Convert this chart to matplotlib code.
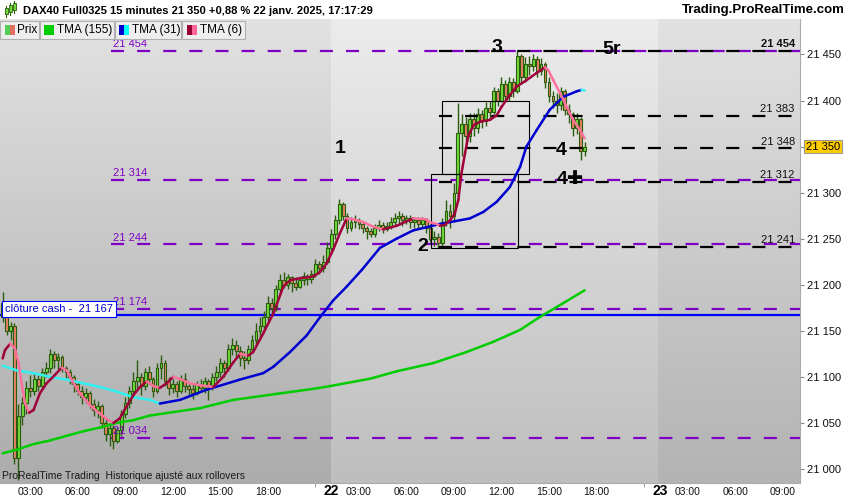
import matplotlib
matplotlib.use("Agg")
import numpy as np
import matplotlib.pyplot as plt
import matplotlib.font_manager as fm
from matplotlib.patches import Rectangle
from matplotlib.colors import LinearSegmentedColormap
from matplotlib.transforms import blended_transform_factory

plt.rcParams['font.family'] = ['Liberation Sans', 'DejaVu Sans']
plt.rcParams['lines.scale_dashes'] = False

# condensed font for the small axis texts if we have it
names = {f.name for f in fm.fontManager.ttflist}
NARROW = 'Liberation Sans Narrow' if 'Liberation Sans Narrow' in names else 'Liberation Sans'

W, H = 850, 500

# ---- 15 min bars, 21 janv 01:15 -> 22 janv 17:15 (bar index on x) ----
first_open = 21165
closes = [21180, 21150, 21155, 21012, 21058, 21072, 21088, 21085, 21098, 21090,
          21105, 21110, 21125, 21118, 21122, 21110, 21105, 21100, 21092, 21085,
          21078, 21082, 21070, 21064, 21068, 21050, 21038, 21045, 21030, 21042,
          21060, 21072, 21085, 21095, 21100, 21090, 21105, 21098, 21085, 21110,
          21115, 21095, 21088, 21092, 21085, 21098, 21090, 21087, 21082, 21092,
          21088, 21095, 21090, 21100, 21105, 21115, 21110, 21130, 21135, 21128,
          21120, 21118, 21130, 21140, 21150, 21155, 21165, 21180, 21175, 21195,
          21205, 21200, 21208, 21202, 21198, 21205, 21210, 21206, 21212, 21222,
          21218, 21225, 21240, 21255, 21270, 21288, 21275, 21262, 21268, 21270,
          21266, 21262, 21258, 21255, 21262, 21265, 21260, 21264, 21268, 21272,
          21275, 21270, 21272, 21268, 21270, 21266, 21270, 21262, 21250, 21252,
          21245, 21268, 21280, 21275, 21300, 21365, 21375, 21362, 21380, 21370,
          21385, 21378, 21392, 21388, 21410, 21400, 21418, 21405, 21420, 21410,
          21448, 21425, 21440, 21438, 21445, 21432, 21440, 21420, 21405, 21400,
          21395, 21410, 21390, 21385, 21370, 21380, 21345, 21350]
highs = [21192, 21182, 21160, 21158, 21070, 21078, 21095, 21102, 21104, 21102,
         21110, 21116, 21130, 21128, 21126, 21124, 21112, 21108, 21102, 21095,
         21090, 21088, 21085, 21076, 21074, 21070, 21055, 21050, 21048, 21046,
         21064, 21078, 21090, 21105, 21118, 21104, 21110, 21112, 21100, 21115,
         21124, 21118, 21100, 21098, 21096, 21102, 21104, 21094, 21092, 21096,
         21098, 21100, 21098, 21104, 21112, 21120, 21118, 21136, 21142, 21140,
         21134, 21128, 21135, 21145, 21158, 21165, 21172, 21188, 21186, 21200,
         21212, 21214, 21212, 21210, 21208, 21210, 21214, 21212, 21216, 21228,
         21226, 21232, 21246, 21260, 21276, 21293, 21290, 21278, 21274, 21276,
         21272, 21268, 21264, 21262, 21266, 21270, 21268, 21268, 21274, 21278,
         21280, 21278, 21276, 21276, 21274, 21274, 21274, 21272, 21266, 21258,
         21256, 21272, 21292, 21288, 21310, 21397, 21385, 21382, 21386, 21386,
         21392, 21390, 21398, 21400, 21415, 21414, 21425, 21422, 21426, 21424,
         21455, 21450, 21447, 21448, 21450, 21448, 21446, 21442, 21425, 21410,
         21408, 21415, 21412, 21396, 21388, 21386, 21382, 21355]
lows = [21160, 21145, 21140, 21005, 20988, 21048, 21060, 21078, 21080, 21085,
        21088, 21100, 21104, 21110, 21108, 21105, 21098, 21092, 21084, 21080,
        21070, 21072, 21066, 21058, 21055, 21045, 21030, 21025, 21022, 21028,
        21036, 21055, 21066, 21080, 21088, 21080, 21086, 21092, 21078, 21082,
        21098, 21090, 21080, 21082, 21078, 21082, 21084, 21080, 21076, 21080,
        21084, 21083, 21075, 21086, 21096, 21100, 21100, 21106, 21124, 21120,
        21112, 21108, 21114, 21126, 21136, 21140, 21150, 21160, 21168, 21172,
        21190, 21196, 21195, 21192, 21194, 21196, 21200, 21200, 21202, 21208,
        21212, 21214, 21222, 21236, 21250, 21266, 21270, 21256, 21258, 21262,
        21260, 21256, 21250, 21252, 21252, 21258, 21256, 21258, 21260, 21264,
        21266, 21264, 21266, 21262, 21262, 21260, 21262, 21256, 21246, 21242,
        21240, 21242, 21264, 21262, 21268, 21296, 21340, 21348, 21355, 21362,
        21365, 21370, 21372, 21380, 21385, 21394, 21398, 21398, 21400, 21404,
        21408, 21418, 21420, 21428, 21432, 21426, 21428, 21414, 21398, 21392,
        21386, 21390, 21384, 21376, 21362, 21364, 21335, 21340]

# moving averages (bar index, value)
tma6_x = [0, 0.6, 1.9, 3.1, 4.0, 4.8, 5.7, 6.7, 7.8, 9.4, 11.1, 13.2, 14.9,
          16.2, 17.4, 19.5, 22.1, 24.6, 26.7, 28.0, 29.6, 31.3, 33.0, 34.7,
          36.4, 38.1, 39.7, 41.4, 43.1, 45.2, 47.3, 49.8, 53.2, 55.7, 58.3,
          60.0, 62.0, 63.3, 65.8, 68.4, 70.9, 72.6, 75.1, 78.5, 80.2, 81.8,
          83.5, 85.2, 86.9, 88.6, 91.1, 93.6, 96.1, 99.5, 103.7, 107.1, 107.9,
          109.6, 110.5, 111.7, 113.0, 114.2, 115.1, 115.9, 116.8, 117.6, 118.9,
          120.6, 123.1, 124.8, 126.0, 128.1, 129.8, 132.3, 134.9, 137.0, 137.8,
          139.1, 140.8, 142.5, 144.1, 145.8, 147.0]
tma6_v = [21120, 21129, 21136, 21131, 21116, 21093, 21071, 21061, 21064, 21082,
          21093, 21102, 21110, 21107, 21097, 21082, 21069, 21060, 21053, 21050,
          21055, 21068, 21080, 21089, 21095, 21090, 21088, 21093, 21100, 21097,
          21093, 21091, 21089, 21100, 21116, 21125, 21123, 21127, 21147, 21169,
          21198, 21205, 21207, 21209, 21214, 21223, 21238, 21256, 21272, 21271,
          21268, 21263, 21260, 21264, 21272, 21271, 21268, 21266, 21264, 21265,
          21270, 21277, 21292, 21321, 21343, 21361, 21373, 21377, 21379, 21384,
          21393, 21406, 21415, 21422, 21430, 21436, 21433, 21422, 21408, 21393,
          21379, 21368, 21359]
tma31_x = [0, 3.6, 7.8, 12.0, 16.2, 20.4, 24.6, 28.8, 33.0, 37.2, 39.7, 44.8,
           51.5, 59.9, 65.8, 68.4, 72.6, 76.8, 80.2, 83.5, 86.9, 90.7, 95.3,
           99.5, 103.7, 110.5, 113.0, 118.0, 121.4, 124.8, 128.1, 130.7, 132.3,
           134.9, 138.2, 141.6, 145.0, 146.2, 147.0]
tma31_v = [21112, 21107, 21104, 21100, 21097, 21093, 21089, 21084, 21078, 21075,
           21071, 21075, 21086, 21097, 21104, 21111, 21127, 21145, 21165, 21183,
           21198, 21216, 21240, 21250, 21259, 21266, 21268, 21272, 21279, 21290,
           21306, 21328, 21350, 21368, 21390, 21404, 21410, 21411.5, 21411]
tma155_x = [0, 3.6, 7.8, 12.0, 16.2, 20.4, 24.6, 28.8, 33.0, 37.2, 49.8, 58.3,
            70.0, 78.5, 82.7, 92.8, 99.5, 108.8, 117.2, 123.9, 130.7, 135.7,
            141.6, 147.0]
tma155_v = [21017, 21021, 21027, 21031, 21036, 21041, 21045, 21050, 21053, 21058,
            21066, 21075, 21082, 21087, 21090, 21098, 21106, 21115, 21127, 21138,
            21151, 21165, 21180, 21194]

purple_levels = [21454, 21314, 21244, 21174, 21034]
black_levels = [21454, 21383, 21348, 21312, 21241]
cash_close = 21167
last_price = 21350
yticks = list(range(21000, 21451, 50))

# hour ticks: bar index -> label
day_start = {'21': 0, '22': 83, '23': 166}
hour_labels = ['03:00', '06:00', '09:00', '12:00', '15:00', '18:00']
hour_offsets = [7, 19, 31, 43, 55, 67]


def fmt(v):
    return f"{v // 1000} {v % 1000:03d}"


fig = plt.figure(figsize=(W / 100, H / 100), dpi=100)
fig.patch.set_facecolor('white')
ax = fig.add_axes([0, 17.3 / H, 800 / W, 463.7 / H])
ax.set_xlim(-0.66, 201.4)
ax.set_ylim(20985.1, 21488.5)

# background, one gradient block per session
grad = np.linspace(0, 1, 256).reshape(-1, 1)
blocks = [(-0.66, 82.9, '#e2e2e2', '#acacac'),
          (82.9, 165.6, '#ececec', '#bebebe'),
          (165.6, 201.4, '#e2e2e2', '#b3b3b3')]
for x0, x1, top, bot in blocks:
    cm = LinearSegmentedColormap.from_list('g', [bot, top])
    ax.imshow(grad, extent=(x0, x1, 20985.1, 21488.5), origin='lower',
              aspect='auto', cmap=cm, zorder=0)

DASH = (0, (9.4, 9.4))

# purple levels
for lv in purple_levels:
    ax.plot([27.4, 201.4], [lv, lv], color='#7f00c4', lw=1.6, ls=DASH, zorder=1)
    ax.text(27.9, lv + 1.5, fmt(lv), color='#7f00c4', fontsize=8, va='bottom',
            ha='left', zorder=6)

# cash close line
ax.axhline(cash_close, color='#0000ff', lw=1.6, zorder=1)

# candles
opens = [first_open] + closes[:-1]
idx = np.arange(len(closes))
o = np.array(opens)
c = np.array(closes)
up = c >= o
bottom = np.minimum(o, c)
height = np.maximum(np.abs(c - o), 1.5)
ax.vlines(idx, lows, highs, color='#2b5c0c', lw=1, zorder=2)
ax.bar(idx, height, bottom=bottom, width=0.72,
       color=np.where(up, '#6edc3c', '#e8826a'), edgecolor='#2b5c0c',
       linewidth=0.8, zorder=3)

# rectangles
ax.add_patch(Rectangle((111, 21320), 22, 79, fill=False, ec='black', lw=0.8, zorder=4))
ax.add_patch(Rectangle((108.3, 21240), 21.9, 80, fill=False, ec='black', lw=0.8, zorder=4))

# black levels
for k, lv in enumerate(black_levels):
    ax.plot([110.2, 201.4], [lv, lv], color='black', lw=1.6, ls=DASH, zorder=4)
    ax.text(200.1, lv + 2, fmt(lv), color='#111111', fontsize=8, va='bottom',
            ha='right', fontweight='bold' if k == 0 else 'normal', zorder=6)


def two_tone(xs, vs, rise, fall):
    for i in range(len(xs) - 1):
        col = rise if vs[i + 1] >= vs[i] else fall
        ax.plot(xs[i:i + 2], vs[i:i + 2], color=col, lw=1.8,
                solid_capstyle='round', zorder=5)


two_tone(tma155_x, tma155_v, '#00cc00', '#00cc00')
two_tone(tma31_x, tma31_v, '#0000d0', '#33f0f0')
two_tone(tma6_x, tma6_v, '#a0003c', '#ff709c')

# wave counts
for txt, xi, yv in [("1", 85.2, 21348), ("2", 106.2, 21241), ("3", 124.8, 21458),
                    ("5r", 153.9, 21455), ("4", 141, 21346), ("4\u271a", 143.3, 21314)]:
    ax.text(xi, yv, txt, fontsize=14, fontweight='bold', ha='center',
            va='center', color='black', zorder=7)

# cash close tag
ax.text(0.6, cash_close + 6.5, "clôture cash -  21 167", color='#0000cc',
        fontsize=8, va='center', ha='left', zorder=7,
        bbox=dict(boxstyle='square,pad=0.25', fc='white', ec='#0000ff', lw=0.8))

ax.text(2 / 800, (482.7 - 476) / 463.7, "ProRealTime Trading  Historique ajusté aux rollovers",
        transform=ax.transAxes, fontsize=7.5, family=NARROW, color='#1a1a1a',
        va='center', ha='left', zorder=7)

# right price axis
ax.yaxis.tick_right()
ax.set_yticks(yticks, [fmt(v) for v in yticks])
ax.tick_params(axis='y', length=3, color='#888888', labelsize=8, pad=2,
               labelcolor='#111111')
trans = blended_transform_factory(ax.transAxes, ax.transData)
ax.text(1 + 6 / 800, last_price, fmt(last_price), transform=trans, fontsize=8,
        va='center', ha='left', clip_on=False, zorder=8,
        bbox=dict(boxstyle='square,pad=0.15', fc='#ffcc00', ec='#999999', lw=0.8))

# time axis
xt, xl = [], []
for d, start in day_start.items():
    for lab, off in zip(hour_labels, hour_offsets):
        xt.append(start + off)
        xl.append(lab)
    if d != '21':
        ax.text(start, -0.018, d, transform=blended_transform_factory(ax.transData, ax.transAxes),
                fontsize=10, fontweight='bold', ha='center', va='center', family=NARROW)
xt, xl = zip(*[(a, b) for a, b in zip(xt, xl) if a < 200])
ax.set_xticks(xt, xl)
ax.set_xticks([day_start['21'] + 79, day_start['22'] + 79], minor=True)
ax.tick_params(axis='x', length=0, labelsize=7.5, pad=3, labelcolor='#111111')
ax.tick_params(axis='x', which='minor', length=3, color='#888888')
for lb in ax.get_xticklabels():
    lb.set_family(NARROW)

for s in ['top', 'left']:
    ax.spines[s].set_visible(False)
for s in ['right', 'bottom']:
    ax.spines[s].set_color('#aaaaaa')


def fx(px):
    return px / W


def fy(py):
    return 1 - py / H


# header
fig.patches.append(Rectangle((fx(0), fy(19)), 1, 19 / H, transform=fig.transFigure,
                             fc='white', ec='none', zorder=10))
for cx, yb, yt in [(6, 14, 8), (10, 12, 5), (14, 10, 3)]:
    fig.add_artist(plt.Line2D([fx(cx), fx(cx)], [fy(yb + 3), fy(yt - 2)],
                              color='#2b5c0c', lw=0.8, transform=fig.transFigure, zorder=11))
    fig.patches.append(Rectangle((fx(cx - 1.5), fy(yb)), 3 / W, (yb - yt) / H,
                                 transform=fig.transFigure, fc='#6edc3c',
                                 ec='#2b5c0c', lw=0.6, zorder=12))
fig.text(fx(23), fy(10.5), "DAX40 Full0325 15 minutes 21 350 +0,88 % 22 janv. 2025, 17:17:29",
         fontsize=8, fontweight='bold', va='center', ha='left', zorder=12)
fig.text(fx(845), fy(10.5), "Trading.ProRealTime.com", fontsize=9.5,
         fontweight='bold', va='center', ha='right', zorder=12)

# legend strip
legend = [(0, 39, "Prix", '#55cc55', '#e07060', 5, 17),
          (40, 114, "TMA (155)", '#00cc00', '#00cc00', 44, 57),
          (115, 181, "TMA (31)", '#0000cc', '#00ffff', 119, 132),
          (182, 245, "TMA (6)", '#990033', '#ff6699', 187, 200)]
for x0, x1, lab, c1, c2, sx, tx in legend:
    fig.patches.append(Rectangle((fx(x0), fy(39)), (x1 - x0) / W, 18 / H,
                                 transform=fig.transFigure, fc='#eeeeee',
                                 ec='#b0b0b0', lw=0.8, zorder=10))
    fig.patches.append(Rectangle((fx(sx), fy(35)), 5 / W, 10 / H,
                                 transform=fig.transFigure, fc=c1, ec='none', zorder=11))
    fig.patches.append(Rectangle((fx(sx + 5), fy(35)), 5 / W, 10 / H,
                                 transform=fig.transFigure, fc=c2, ec='none', zorder=11))
    fig.text(fx(tx), fy(30), lab, fontsize=8.5, va='center', ha='left', zorder=12)

fig.savefig("out.png", dpi=100)
